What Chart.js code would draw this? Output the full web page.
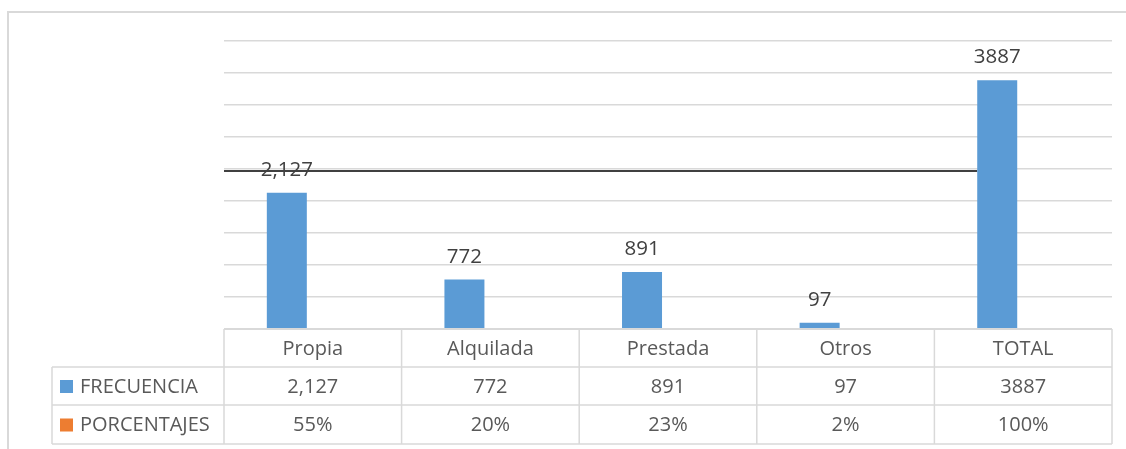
<!DOCTYPE html>
<html>
<head>
<meta charset="utf-8">
<script src="https://cdn.jsdelivr.net/npm/chart.js@4.4.1/dist/chart.umd.min.js"></script>
<style>
  html,body{margin:0;padding:0;background:#fff;}
  #wrap{width:1126px;height:449px;}
</style>
</head>
<body>
<div id="wrap"><canvas id="chart" width="1126" height="449"></canvas></div>
<script>
// datos
const categorias = ["Propia","Alquilada","Prestada","Otros","TOTAL"];
const frecuencia = [2127, 772, 891, 97, 3887];
const porcentajes = [0.55, 0.20, 0.23, 0.02, 1.00];
const frecTxt = ["2,127","772","891","97","3887"];
const porcTxt = ["55%","20%","23%","2%","100%"];
const series = ["FRECUENCIA","PORCENTAJES"];
const colores = ["#5B9BD5","#ED7D31"];
const lineaRef = 2470;
const yMax = 4500, yPaso = 500;

const FONT = "'Open Sans', 'Noto Sans', sans-serif";
const TXT = "#595959";
const BORDE = "#d9d9d9";

// linea negra detras de las barras
const lineaPlugin = {
  id: "lineaRef",
  beforeDatasetsDraw(chart) {
    const {ctx, chartArea, scales:{y}} = chart;
    const bars = chart.getDatasetMeta(0).data;
    const last = bars[bars.length-1];
    const yy = y.getPixelForValue(lineaRef);
    ctx.save();
    ctx.strokeStyle = "#404040";
    ctx.lineWidth = 2;
    ctx.beginPath();
    ctx.moveTo(chartArea.left, yy);
    ctx.lineTo(last.x - last.width/2, yy);
    ctx.stroke();
    ctx.restore();
  }
};

// etiquetas sobre las barras
const etiquetasPlugin = {
  id: "etiquetas",
  afterDatasetsDraw(chart) {
    const {ctx} = chart;
    ctx.save();
    ctx.font = "20.5px " + FONT;
    ctx.fillStyle = "#404040";
    ctx.textAlign = "center";
    ctx.textBaseline = "alphabetic";
    chart.getDatasetMeta(0).data.forEach((b,i)=>{
      ctx.fillText(frecTxt[i], b.x, b.y - 17);
    });
    ctx.restore();
  }
};

// tabla de datos tipo Excel
const tablaPlugin = {
  id: "tabla",
  afterDraw(chart) {
    const {ctx, chartArea, scales:{x}} = chart;
    const n = categorias.length;
    const cw = (chartArea.right - chartArea.left)/n;
    const top = Math.round(chartArea.bottom);
    const rows = [top, top+38, top+76, top+115];
    const legL = 52;
    ctx.save();
    // marco exterior
    ctx.strokeStyle = BORDE;
    ctx.lineWidth = 2;
    ctx.strokeRect(8, 12, 1200, 600);

    // linea superior de la tabla (tapa las barras de porcentaje, casi cero)
    ctx.beginPath();
    ctx.moveTo(chartArea.left, top); ctx.lineTo(chartArea.right, top);
    ctx.stroke();

    ctx.lineWidth = 1.5;
    ctx.beginPath();
    for(let r=1;r<rows.length;r++){ ctx.moveTo(legL, rows[r]); ctx.lineTo(chartArea.right, rows[r]); }
    for(let i=0;i<=n;i++){
      const xx = chartArea.left + i*cw;
      ctx.moveTo(xx, rows[0]); ctx.lineTo(xx, rows[3]);
    }
    ctx.moveTo(legL, rows[1]); ctx.lineTo(legL, rows[3]);
    ctx.stroke();

    ctx.font = "20px " + FONT;
    ctx.fillStyle = TXT;
    ctx.textAlign = "center";
    ctx.textBaseline = "middle";
    categorias.forEach((c,i)=>{
      const cx = x.getPixelForValue(i);
      ctx.fillText(c, cx, (rows[0]+rows[1])/2 + 1);
      ctx.fillText(frecTxt[i], cx, (rows[1]+rows[2])/2 + 1);
      ctx.fillText(porcTxt[i], cx, (rows[2]+rows[3])/2 + 1);
    });
    // leyenda
    ctx.textAlign = "left";
    series.forEach((s,k)=>{
      const cy = (rows[k+1]+rows[k+2])/2;
      ctx.fillStyle = colores[k];
      ctx.fillRect(60, cy-6, 13, 13);
      ctx.fillStyle = TXT;
      ctx.fillText(s, 80, cy + 1);
    });
    ctx.restore();
  }
};

Chart.defaults.font.family = FONT;
new Chart(document.getElementById("chart"), {
  type: "bar",
  data: {
    labels: categorias,
    datasets: [
      { label: series[0], data: frecuencia, backgroundColor: colores[0], categoryPercentage: 0.585, barPercentage: 0.77 },
      { label: series[1], data: porcentajes, backgroundColor: colores[1], categoryPercentage: 0.585, barPercentage: 0.77 }
    ]
  },
  options: {
    responsive: false,
    animation: false,
    layout: { padding: { left: 224, right: 14, top: 41, bottom: 120 } },
    plugins: { legend: { display: false }, tooltip: { enabled: false } },
    scales: {
      x: { display: false },
      y: {
        min: 0, max: yMax,
        ticks: { display: false, stepSize: yPaso },
        border: { display: false },
        grid: { color: BORDE, lineWidth: 1.5, drawTicks: false }
      }
    }
  },
  plugins: [lineaPlugin, etiquetasPlugin, tablaPlugin]
});
</script>
</body>
</html>
